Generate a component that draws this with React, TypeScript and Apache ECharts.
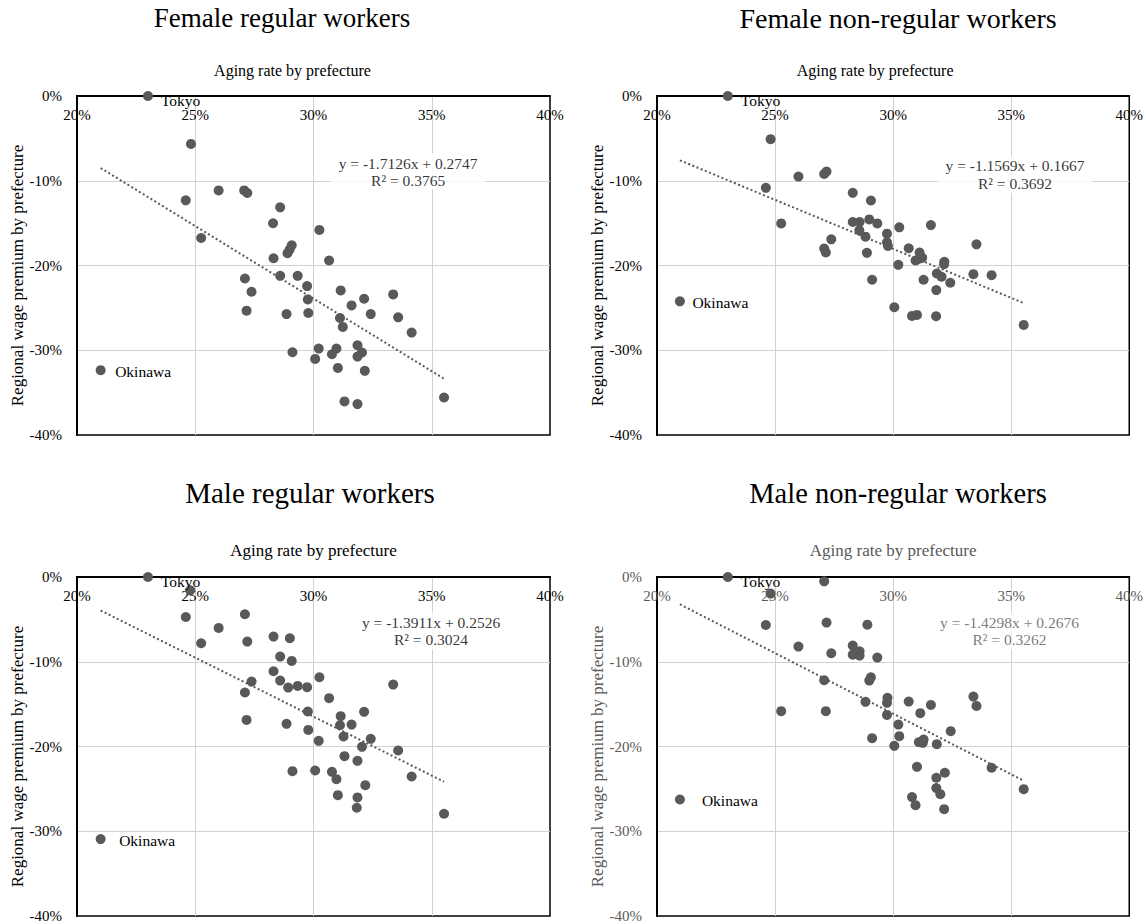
import React, { useEffect, useRef } from "react";
import * as echarts from "echarts";

const FONT = "'Liberation Serif', 'Times New Roman', serif";

const panelTitles = [
  "Female regular workers",
  "Female non-regular workers",
  "Male regular workers",
  "Male non-regular workers",
];
const xAxisName = "Aging rate by prefecture";
const yAxisName = "Regional wage premium by prefecture";
const xRange = [20, 40, 5];
const yRange = [-40, 0, 10];

const labelNames = ["Tokyo", "Okinawa"];
const tokyoPts = [[23.0, 0], [23.0, 0], [23.0, 0], [23.0, 0]];
const okinawaPts = [[21.0, -32.35], [20.97, -24.23], [21.0, -30.92], [20.97, -26.25]];

const femaleRegular = [
  [24.82, -5.65], [24.6, -12.31], [25.99, -11.14], [25.25, -16.75], [27.07, -11.14], [27.2, -11.45],
  [28.59, -13.14], [28.29, -15.02], [30.25, -15.8], [29.08, -17.61], [28.99, -18.12], [28.9, -18.55],
  [28.31, -19.14], [30.66, -19.41], [28.59, -21.22], [29.33, -21.22], [27.1, -21.53], [29.73, -22.43],
  [27.38, -23.1], [31.15, -22.94], [33.37, -23.41], [32.14, -23.92], [29.76, -24.0], [31.61, -24.71],
  [27.17, -25.33], [28.86, -25.73], [29.78, -25.61], [32.42, -25.73], [33.58, -26.12], [31.12, -26.2],
  [31.24, -27.25], [34.15, -27.92], [31.86, -29.41], [30.22, -29.8], [30.97, -29.8], [29.11, -30.24],
  [30.78, -30.47], [32.05, -30.27], [31.86, -30.75], [30.07, -31.02], [31.03, -32.08], [32.17, -32.43],
  [31.31, -36.04], [31.86, -36.35], [35.52, -35.57],
];

const femaleNonRegular = [
  [24.81, -5.09], [24.61, -10.84], [25.99, -9.51], [25.26, -15.03], [27.08, -9.2], [27.18, -8.92],
  [27.08, -18.0], [27.15, -18.47], [27.38, -16.91], [28.29, -11.43], [29.06, -12.33], [28.29, -14.87],
  [28.58, -14.87], [28.99, -14.56], [29.33, -15.03], [28.57, -15.85], [28.83, -16.6], [28.89, -18.51],
  [29.11, -21.68], [29.74, -16.24], [29.74, -17.26], [29.78, -17.69], [30.26, -15.5], [30.66, -17.96],
  [30.22, -19.92], [31.12, -18.47], [31.23, -19.1], [30.95, -19.41], [31.6, -15.23], [32.17, -19.57],
  [32.16, -19.84], [31.85, -20.94], [32.05, -21.33], [31.29, -21.68], [32.42, -22.04], [31.83, -22.9],
  [33.4, -21.02], [34.17, -21.14], [33.53, -17.5], [30.05, -24.93], [30.8, -25.95], [31.01, -25.83],
  [31.82, -25.99], [35.53, -27.01], [31.1, -19.2],
];

const maleRegular = [
  [24.79, -1.57], [24.6, -4.72], [25.99, -6.01], [25.25, -7.82], [27.1, -4.4], [27.2, -7.62],
  [27.1, -13.63], [27.17, -16.86], [27.38, -12.34], [28.31, -7.03], [29.0, -7.23], [28.59, -9.39],
  [29.08, -9.9], [28.31, -11.12], [28.59, -12.22], [28.93, -13.05], [29.33, -12.85], [29.73, -13.0],
  [30.25, -11.83], [30.66, -14.3], [28.86, -17.33], [29.76, -15.87], [29.78, -18.04], [30.22, -19.33],
  [31.15, -16.42], [31.12, -17.49], [31.61, -17.41], [32.14, -15.91], [31.27, -18.82], [32.42, -19.1],
  [32.05, -20.04], [33.37, -12.69], [33.58, -20.47], [31.31, -21.14], [31.86, -21.69], [29.11, -22.91],
  [30.07, -22.83], [30.78, -22.99], [30.97, -23.85], [34.15, -23.54], [32.19, -24.56], [31.03, -25.74],
  [31.86, -26.01], [31.83, -27.23], [35.52, -27.94],
];

const maleNonRegular = [
  [24.81, -1.96], [24.61, -5.66], [25.99, -8.21], [25.26, -15.83], [27.08, -0.51], [27.18, -5.38],
  [27.38, -9.0], [27.08, -12.18], [27.15, -15.83], [28.29, -8.09], [28.29, -9.16], [28.58, -8.76],
  [28.58, -9.27], [28.91, -5.62], [29.33, -9.51], [29.06, -11.83], [28.99, -12.22], [28.83, -14.73],
  [29.11, -19.02], [29.76, -14.26], [29.74, -14.85], [29.74, -16.27], [30.22, -17.41], [30.26, -18.78],
  [30.05, -19.92], [30.66, -14.7], [31.15, -16.07], [31.6, -15.09], [31.09, -19.49], [31.29, -19.17],
  [31.26, -19.57], [31.85, -19.72], [32.44, -18.19], [31.01, -22.4], [31.83, -23.69], [32.19, -23.1],
  [31.83, -24.91], [32.0, -25.62], [30.8, -25.97], [30.95, -26.92], [32.16, -27.39], [33.4, -14.11],
  [33.53, -15.21], [34.17, -22.51], [35.53, -25.03],
];

const panelData = [femaleRegular, femaleNonRegular, maleRegular, maleNonRegular];
const slopes = [-1.7126, -1.1569, -1.3911, -1.4298];
const intercepts = [0.2747, 0.1667, 0.2526, 0.2676];
const rSquared = [0.3765, 0.3692, 0.3024, 0.3262];
const equationPos = [[34.0, -8.94], [35.16, -9.27], [34.97, -6.38], [34.93, -6.35]];

const GRID_LEFT = [77, 657];
const GRID_TOP = [96, 577];
const GRID_W = 473;
const GRID_H = 339;
const TITLE_X = [282, 898, 310, 898];
const TITLE_Y = [18, 18, 493, 493];
const TITLE_SIZE = [27, 28, 29, 28.5];
const X_NAME_SHIFT = [21, 18, 0, 0];
const X_NAME_SIZE = [16, 16, 17, 17];
const okinawaDist = [9.5, 7.5, 13.5, 17];
const axisTextColors = ["#000", "#000", "#000", "#595959"];

function buildOption() {
  const grid: any[] = [];
  const xAxis: any[] = [];
  const yAxis: any[] = [];
  const series: any[] = [];
  const graphic: any[] = [];

  panelTitles.forEach((title, i) => {
    const col = i % 2;
    const row = Math.floor(i / 2);
    const tc = axisTextColors[i];
    grid.push({
      left: GRID_LEFT[col],
      top: GRID_TOP[row],
      width: GRID_W,
      height: GRID_H,
      show: true,
      borderColor: "#000",
      borderWidth: 1.5,
      backgroundColor: "transparent",
    });
    xAxis.push({
      gridIndex: i,
      type: "value",
      position: "top",
      min: xRange[0],
      max: xRange[1],
      interval: xRange[2],
      name: xAxisName,
      nameLocation: "middle",
      nameGap: 18,
      nameTextStyle: {
        fontFamily: FONT,
        fontSize: X_NAME_SIZE[i],
        color: tc,
        padding: [0, X_NAME_SHIFT[i] * 2, 0, 0],
      },
      axisLine: { show: true, onZero: false, lineStyle: { color: "#000", width: 2 } },
      axisTick: { show: false },
      axisLabel: {
        inside: true,
        margin: 11,
        formatter: "{value}%",
        fontFamily: FONT,
        fontSize: 15,
        color: tc,
      },
      splitLine: {
        show: true,
        showMinLine: false,
        showMaxLine: false,
        lineStyle: { color: "#d0d0d0", width: 1 },
      },
    });
    yAxis.push({
      gridIndex: i,
      type: "value",
      min: yRange[0],
      max: yRange[1],
      interval: yRange[2],
      name: yAxisName,
      nameLocation: "middle",
      nameRotate: 90,
      nameGap: 50,
      nameTextStyle: { fontFamily: FONT, fontSize: 17, color: tc, padding: [0, 20, 0, 0] },
      axisLine: { show: true, onZero: false, lineStyle: { color: "#000", width: 2 } },
      axisTick: { show: false },
      axisLabel: {
        margin: 15,
        formatter: "{value}%",
        fontFamily: FONT,
        fontSize: 15,
        color: tc,
      },
      splitLine: {
        show: true,
        showMinLine: false,
        showMaxLine: false,
        lineStyle: { color: "#d0d0d0", width: 1 },
      },
    });

    const pts = panelData[i];
    const all = pts.concat([tokyoPts[i], okinawaPts[i]]);
    const xs = all.map((p) => p[0]);
    const xMin = Math.min(...xs);
    const xMax = Math.max(...xs);
    const f = (x: number) => slopes[i] * x + intercepts[i] * 100;

    series.push({
      type: "line",
      xAxisIndex: i,
      yAxisIndex: i,
      data: [[xMin, f(xMin)], [xMax, f(xMax)]],
      symbol: "none",
      silent: true,
      lineStyle: { color: "#595959", width: 2, type: [2, 2.5] },
      z: 2,
    });

    series.push({
      type: "scatter",
      xAxisIndex: i,
      yAxisIndex: i,
      symbolSize: 10,
      itemStyle: { color: "#595959", opacity: 1 },
      data: pts,
      z: 3,
    });

    series.push({
      type: "scatter",
      xAxisIndex: i,
      yAxisIndex: i,
      symbolSize: 10,
      clip: false,
      itemStyle: { color: "#595959", opacity: 1 },
      data: [
        {
          value: tokyoPts[i],
          label: {
            show: true,
            formatter: labelNames[0],
            position: "right",
            distance: 8,
            offset: [0, 4],
            fontFamily: FONT,
            fontSize: 15.5,
            color: "#000",
          },
        },
        {
          value: okinawaPts[i],
          label: {
            show: true,
            formatter: labelNames[1],
            position: "right",
            distance: okinawaDist[i],
            offset: [0, 1.5],
            fontFamily: FONT,
            fontSize: 15.5,
            color: "#000",
          },
        },
      ],
      z: 4,
    });

    series.push({
      type: "scatter",
      xAxisIndex: i,
      yAxisIndex: i,
      symbolSize: 0,
      silent: true,
      data: [equationPos[i]],
      label: {
        show: true,
        position: "inside",
        formatter:
          "y = " + slopes[i].toFixed(4) + "x + " + intercepts[i].toFixed(4) + "\nR² = " + rSquared[i].toFixed(4),
        fontFamily: FONT,
        fontSize: 15.5,
        lineHeight: 17.5,
        align: "center",
        color: tc,
        backgroundColor: "#fff",
        padding: [1, 8],
      },
      z: 5,
    });

    graphic.push({
      type: "text",
      x: TITLE_X[i],
      y: TITLE_Y[i],
      style: {
        text: title,
        fontFamily: FONT,
        fontSize: TITLE_SIZE[i],
        fill: "#000",
        align: "center",
        verticalAlign: "middle",
      },
    });
  });

  return {
    animation: false,
    backgroundColor: "#fff",
    grid,
    xAxis,
    yAxis,
    series,
    graphic,
  };
}

export default function App() {
  const ref = useRef<HTMLDivElement>(null);
  useEffect(() => {
    if (!ref.current) return;
    const chart = echarts.init(ref.current, null, { renderer: "svg" });
    chart.setOption(buildOption() as any);
    return () => chart.dispose();
  }, []);
  return (
    <div
      ref={ref}
      style={{ position: "absolute", left: 0, top: 0, width: 1146, height: 924, background: "#fff" }}
    />
  );
}
